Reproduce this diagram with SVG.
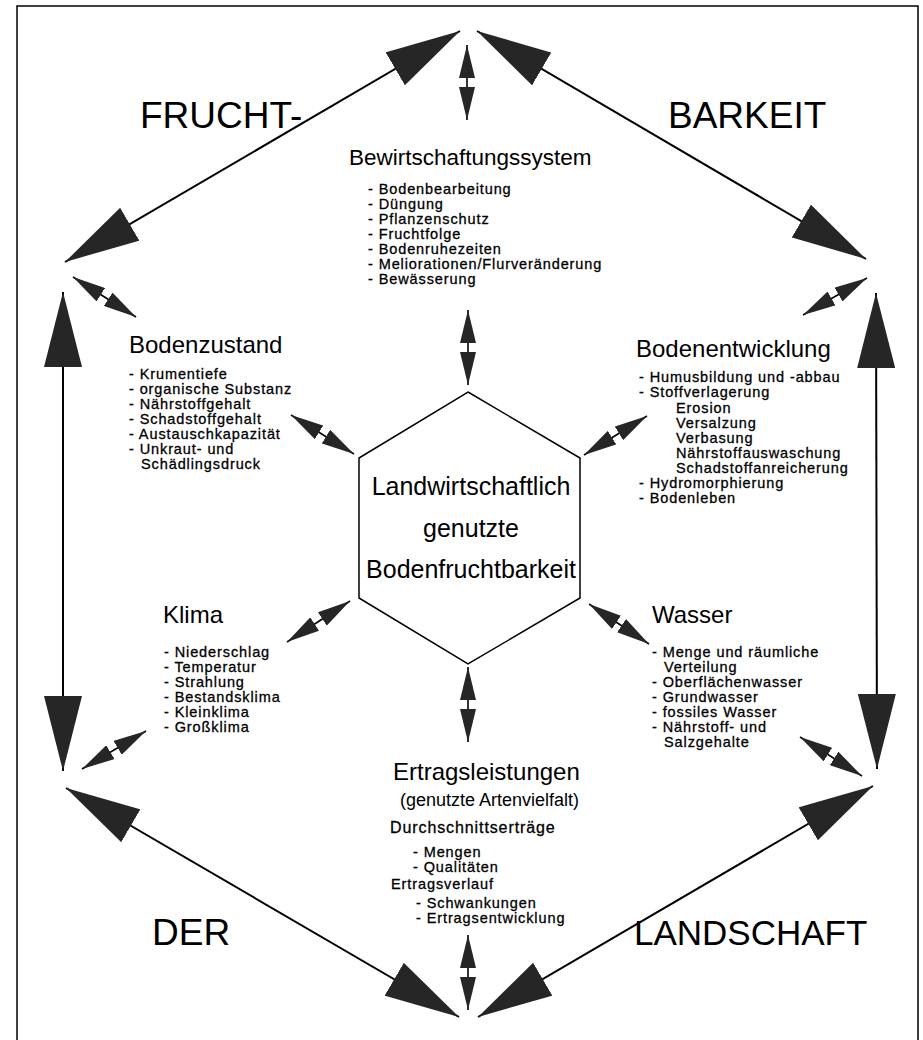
<svg xmlns="http://www.w3.org/2000/svg" width="923" height="1040" viewBox="0 0 923 1040">
<style>
text{font-family:"Liberation Sans",Arial,Helvetica,sans-serif;fill:#000}
.w{font-size:37px}
.h{font-size:24px}
.li{font-size:14.5px;letter-spacing:0.9px;stroke:#000;stroke-width:0.3px}
.c{font-size:25px;text-anchor:middle}
.big{stroke:#000;stroke-width:2;fill:none;marker-start:url(#bh);marker-end:url(#bh)}
.sm{stroke:#000;stroke-width:1.6;fill:none;marker-start:url(#sh);marker-end:url(#sh)}
.frame{fill:none;stroke:#000;stroke-width:1.5}
</style>
<defs>
<marker id="bh" viewBox="0 0 75 38" refX="75" refY="19" markerWidth="75" markerHeight="38" markerUnits="userSpaceOnUse" orient="auto-start-reverse">
<path d="M0,0 L75,19 L0,38 Z" fill="#262626"/>
</marker>
<marker id="sh" viewBox="0 0 33 16" refX="33" refY="8" markerWidth="33" markerHeight="16" markerUnits="userSpaceOnUse" orient="auto-start-reverse">
<path d="M0,0 L33,8 L0,16 Z" fill="#262626"/>
</marker>
</defs>
<rect width="923" height="1040" fill="#fff"/>
<path class="frame" d="M17,1045 V6 H918 V1045"/>

<g id="title">
<text class="w" x="140" y="128">FRUCHT-</text>
<text class="w" x="668" y="128">BARKEIT</text>
<text class="w" x="152" y="945">DER</text>
<text class="w" x="634" y="945" style="font-size:35px">LANDSCHAFT</text>
</g>

<g id="connectors">
<line class="big" x1="65" y1="262" x2="460" y2="31"/>
<line class="big" x1="477" y1="31" x2="866" y2="259"/>
<line class="big" x1="63" y1="292" x2="63" y2="771"/>
<line class="big" x1="876" y1="293" x2="877" y2="769"/>
<line class="big" x1="66" y1="788" x2="459" y2="1017"/>
<line class="big" x1="478" y1="1017" x2="873" y2="786"/>
<line class="sm" x1="467" y1="45" x2="467" y2="120"/>
<line class="sm" x1="73" y1="277" x2="136" y2="317"/>
<line class="sm" x1="867" y1="278" x2="803" y2="315"/>
<line class="sm" x1="82" y1="769" x2="146" y2="731"/>
<line class="sm" x1="800" y1="737" x2="862" y2="776"/>
<line class="sm" x1="468" y1="935" x2="468" y2="1010"/>
<line class="sm" x1="468" y1="310" x2="468" y2="385"/>
<line class="sm" x1="291" y1="415" x2="354" y2="454"/>
<line class="sm" x1="647" y1="416" x2="584" y2="455"/>
<line class="sm" x1="350" y1="601" x2="287" y2="642"/>
<line class="sm" x1="589" y1="604" x2="649" y2="644"/>
<line class="sm" x1="468" y1="667" x2="468" y2="742"/>
</g>

<g id="center">
<polygon points="468,392 580,458 580,598 468,664 359,598 359,458" fill="#fff" stroke="#000" stroke-width="1.5"/>
<text class="c" x="471" y="495">Landwirtschaftlich</text>
<text class="c" x="471" y="537">genutzte</text>
<text class="c" x="471" y="578">Bodenfruchtbarkeit</text>
</g>

<g id="bewirtschaftung">
<text class="h" x="349" y="165" style="font-size:22.5px">Bewirtschaftungssystem</text>
<text class="li" x="368" y="194">- Bodenbearbeitung</text>
<text class="li" x="368" y="209">- Düngung</text>
<text class="li" x="368" y="224">- Pflanzenschutz</text>
<text class="li" x="368" y="239">- Fruchtfolge</text>
<text class="li" x="368" y="254">- Bodenruhezeiten</text>
<text class="li" x="368" y="269">- Meliorationen/Flurveränderung</text>
<text class="li" x="368" y="284">- Bewässerung</text>
</g>

<g id="bodenzustand">
<text class="h" x="129" y="353">Bodenzustand</text>
<text class="li" x="129" y="379">- Krumentiefe</text>
<text class="li" x="129" y="394">- organische Substanz</text>
<text class="li" x="129" y="409">- Nährstoffgehalt</text>
<text class="li" x="129" y="424">- Schadstoffgehalt</text>
<text class="li" x="129" y="439">- Austauschkapazität</text>
<text class="li" x="129" y="454">- Unkraut- und</text>
<text class="li" x="141" y="469">Schädlingsdruck</text>
</g>

<g id="bodenentwicklung">
<text class="h" x="636" y="357">Bodenentwicklung</text>
<text class="li" x="639" y="382">- Humusbildung und -abbau</text>
<text class="li" x="639" y="397">- Stoffverlagerung</text>
<text class="li" x="676" y="413">Erosion</text>
<text class="li" x="676" y="428">Versalzung</text>
<text class="li" x="676" y="443">Verbasung</text>
<text class="li" x="676" y="458">Nährstoffauswaschung</text>
<text class="li" x="676" y="473">Schadstoffanreicherung</text>
<text class="li" x="639" y="488">- Hydromorphierung</text>
<text class="li" x="639" y="503">- Bodenleben</text>
</g>

<g id="klima">
<text class="h" x="163" y="623">Klima</text>
<text class="li" x="164" y="657">- Niederschlag</text>
<text class="li" x="164" y="672">- Temperatur</text>
<text class="li" x="164" y="687">- Strahlung</text>
<text class="li" x="164" y="702">- Bestandsklima</text>
<text class="li" x="164" y="717">- Kleinklima</text>
<text class="li" x="164" y="732">- Großklima</text>
</g>

<g id="wasser">
<text class="h" x="652" y="623">Wasser</text>
<text class="li" x="652" y="657">- Menge und räumliche</text>
<text class="li" x="664" y="672">Verteilung</text>
<text class="li" x="652" y="687">- Oberflächenwasser</text>
<text class="li" x="652" y="702">- Grundwasser</text>
<text class="li" x="652" y="717">- fossiles Wasser</text>
<text class="li" x="652" y="732">- Nährstoff- und</text>
<text class="li" x="664" y="747">Salzgehalte</text>
</g>

<g id="ertrag">
<text class="h" x="393" y="780">Ertragsleistungen</text>
<text x="400" y="806" style="font-size:18px">(genutzte Artenvielfalt)</text>
<text class="li" x="390" y="833" style="font-size:16px">Durchschnittserträge</text>
<text class="li" x="413" y="857">- Mengen</text>
<text class="li" x="413" y="872">- Qualitäten</text>
<text class="li" x="391" y="889">Ertragsverlauf</text>
<text class="li" x="416" y="908">- Schwankungen</text>
<text class="li" x="416" y="923">- Ertragsentwicklung</text>
</g>
</svg>
